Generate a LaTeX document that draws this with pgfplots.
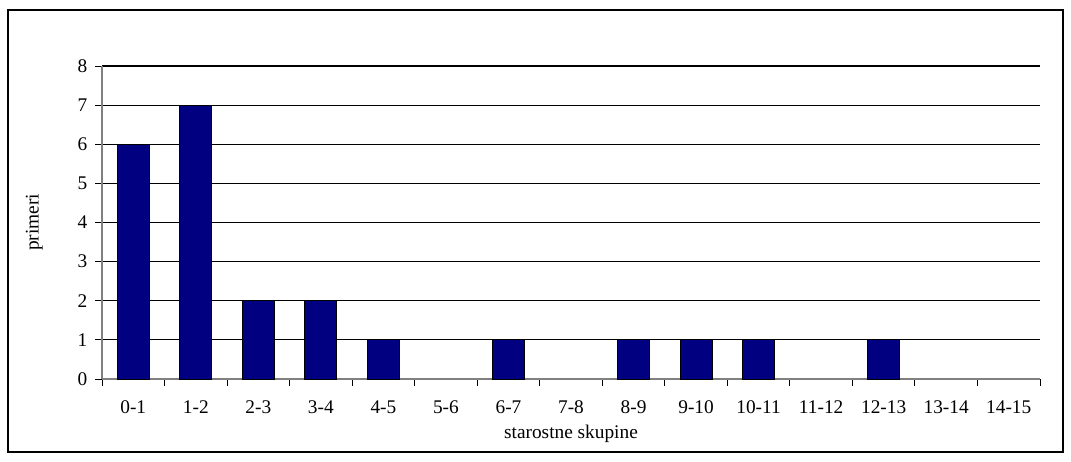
\documentclass[border=0pt]{standalone}
\usepackage{pgfplots}
\pgfplotsset{compat=1.18}
\usepackage{fontspec}
\setmainfont{Liberation Serif}
\definecolor{barnavy}{RGB}{0,0,128}
\definecolor{axgray}{RGB}{128,128,128}
\begin{document}
\fontsize{14.25pt}{17pt}\selectfont
\begin{tikzpicture}[x=0.75pt,y=0.75pt]
\path[use as bounding box] (0,0) rectangle (1071,461);
\draw[black, line width=1.2pt] (8,9) rectangle (1063,451);
\begin{axis}[
  at={(102*0.75pt,82*0.75pt)}, anchor=south west,
  scale only axis,
  width=938*0.75pt, height=313*0.75pt,
  xmin=-0.5, xmax=14.5, ymin=0, ymax=8,
  axis lines*=left,
  axis line style={axgray, line width=0.9pt},
  ytick={0,...,8},
  xtick={0,...,14},
  xticklabels={0-1,1-2,2-3,3-4,4-5,5-6,6-7,7-8,8-9,9-10,10-11,11-12,12-13,13-14,14-15},
  minor xtick={-0.5,0.5,...,14.5},
  tick align=outside,
  major tick length=7*0.75pt,
  x tick style={draw=none},
  minor x tick style={draw=black, line width=0.7pt},
  minor tick length=7*0.75pt,
  y tick style={black, line width=0.7pt},
  ymajorgrids,
  grid style={black, line width=0.8pt},
  /pgf/number format/assume math mode=true,
  tick label style={font=\fontsize{14.5pt}{17pt}\selectfont},
  label style={font=\fontsize{14.5pt}{17pt}\selectfont},
  xticklabel style={yshift=-8*0.75pt},
  yticklabel style={xshift=-1*0.75pt},
  xlabel={starostne skupine},
  ylabel={primeri},
  xlabel style={yshift=1*0.75pt},
  ylabel style={yshift=22*0.75pt},
  clip=false,
]
\addplot[ybar, bar width=0.51, fill=barnavy, draw=black, line width=0.7pt] coordinates {
(0,6) (1,7) (2,2) (3,2) (4,1) (6,1) (8,1) (9,1) (10,1) (12,1)
};
\end{axis}
\end{tikzpicture}
\end{document}
